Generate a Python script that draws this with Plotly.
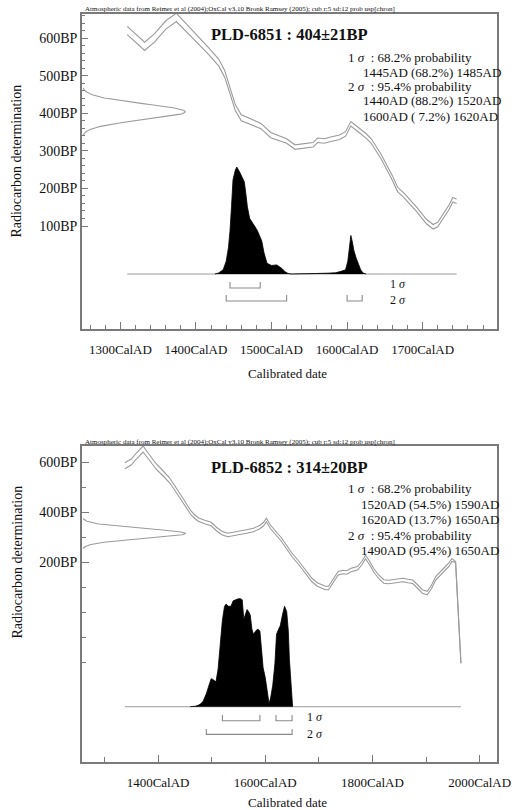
import numpy as np
import plotly.graph_objects as go

W, H = 526, 810

# ---------------- Panel 1 data : PLD-6851 ----------------
cal1_year = [1309, 1320, 1332, 1345, 1360, 1374, 1387, 1400, 1416, 1430, 1438, 1445, 1452, 1460,
             1472, 1486, 1499, 1510, 1520, 1531, 1545, 1555, 1561, 1570, 1577, 1590, 1598, 1605,
             1615, 1625, 1632, 1645, 1660, 1667, 1675, 1685, 1693, 1705, 1714, 1720, 1727, 1735,
             1740, 1745]
cal1_bp = [620, 600, 578, 600, 635, 655, 628, 602, 567, 535, 505, 460, 415, 388,
           378, 366, 342, 333, 326, 310, 313, 316, 328, 326, 330, 336, 345, 372,
           356, 340, 326, 285, 228, 197, 182, 160, 142, 112, 98, 104, 124, 150,
           170, 166]
cal1_err = [11, 11, 11, 11, 11, 11, 10, 10, 9, 9, 9, 8, 8, 8,
            7, 7, 7, 6, 6, 6, 6, 6, 6, 6, 6, 6, 6, 6,
            6, 6, 6, 6, 6, 6, 6, 6, 6, 6, 6, 6, 6, 6,
            6, 6]
dist1_year = [1425, 1430, 1436, 1440, 1443, 1445, 1447, 1449, 1452, 1454, 1458, 1462, 1464, 1466,
              1468, 1471, 1475, 1478, 1481, 1484, 1487, 1490, 1494, 1500, 1507, 1510, 1514, 1518,
              1522, 1526, 1550, 1560, 1575, 1585, 1592, 1598, 1601, 1603, 1605, 1607, 1609, 1612,
              1615, 1618, 1621, 1625]
dist1_prob = [0, 0.01, 0.04, 0.12, 0.25, 0.40, 0.63, 0.88, 0.97, 1.00, 0.95, 0.89, 0.86, 0.75,
              0.63, 0.52, 0.48, 0.45, 0.41, 0.36, 0.31, 0.20, 0.10, 0.08, 0.085, 0.07, 0.05, 0.02,
              0.005, 0, 0, 0.005, 0.008, 0.012, 0.025, 0.04, 0.12, 0.25, 0.36, 0.30, 0.22, 0.15,
              0.10, 0.04, 0.01, 0]
r14_1 = (404, 21)
sig1_ranges_1 = [(1445, 1485)]
sig2_ranges_1 = [(1440, 1520), (1600, 1620)]
title1 = "PLD-6851 : 404±21BP"
text1 = ["1 <i>σ</i>  : 68.2% probability", "1445AD (68.2%) 1485AD",
         "2 <i>σ</i>  : 95.4% probability", "1440AD (88.2%) 1520AD", "1600AD ( 7.2%) 1620AD"]
xt1_vals = [1300, 1400, 1500, 1600, 1700]
xt1_text = ["1300CalAD", "1400CalAD", "1500CalAD", "1600CalAD", "1700CalAD"]
yt1_vals = [100, 200, 300, 400, 500, 600]
yt1_text = ["100BP", "200BP", "300BP", "400BP", "500BP", "600BP"]

# ---------------- Panel 2 data : PLD-6852 ----------------
cal2_year = [1338, 1350, 1360, 1372, 1385, 1396, 1410, 1421, 1430, 1439, 1447, 1454, 1462, 1469,
             1475, 1487, 1499, 1510, 1520, 1530, 1542, 1554, 1565, 1578, 1590, 1597, 1602, 1610,
             1620, 1630, 1639, 1650, 1663, 1675, 1687, 1697, 1705, 1712, 1718, 1728, 1736, 1745,
             1752, 1760, 1772, 1780, 1787, 1795, 1802, 1812, 1821, 1830, 1839, 1848, 1857, 1866,
             1875, 1885, 1893, 1902, 1910, 1918, 1928, 1936, 1943, 1948, 1955, 1965]
cal2_bp = [585, 600, 625, 652, 615, 583, 553, 528, 500, 472, 445, 421, 395, 380,
           370, 360, 352, 330, 315, 308, 312, 316, 322, 328, 340, 352, 368, 340,
           315, 290, 262, 228, 195, 160, 128, 110, 101, 96, 96, 130, 155, 160,
           158, 168, 175, 195, 220, 195, 168, 140, 122, 120, 122, 126, 128, 124,
           121, 100, 82, 76, 100, 135, 155, 175, 190, 208, 200, -205]
cal2_err = [12, 12, 12, 12, 11, 11, 10, 10, 9, 9, 8, 8, 8, 7,
            7, 7, 7, 7, 7, 7, 7, 7, 7, 7, 7, 7, 7, 7,
            7, 7, 7, 7, 7, 7, 7, 7, 7, 7, 7, 7, 7, 7,
            7, 7, 7, 7, 7, 7, 7, 7, 7, 7, 7, 7, 7, 7,
            7, 7, 7, 7, 7, 7, 7, 7, 7, 6, 2, 1]
dist2_year = [1460, 1470, 1478, 1484, 1490, 1495, 1499, 1503, 1508, 1512, 1516, 1520, 1524, 1527,
              1531, 1536, 1540, 1545, 1550, 1554, 1557, 1560, 1563, 1566, 1569, 1572, 1575, 1578,
              1582, 1586, 1590, 1593, 1596, 1600, 1604, 1607, 1610, 1614, 1618, 1621, 1625, 1628,
              1632, 1636, 1640, 1643, 1645, 1648, 1651]
dist2_prob = [0, 0.005, 0.02, 0.05, 0.12, 0.20, 0.26, 0.25, 0.23, 0.35, 0.60, 0.80, 0.93, 0.95,
              0.93, 0.93, 0.98, 0.99, 1.00, 1.00, 0.99, 0.81, 0.85, 0.90, 0.88, 0.85, 0.72, 0.67,
              0.70, 0.72, 0.70, 0.55, 0.36, 0.27, 0.12, 0.03, 0.08, 0.20, 0.40, 0.67, 0.72, 0.75,
              0.85, 0.93, 0.88, 0.70, 0.44, 0.20, 0]
r14_2 = (314, 20)
sig1_ranges_2 = [(1520, 1590), (1620, 1650)]
sig2_ranges_2 = [(1490, 1650)]
title2 = "PLD-6852 : 314±20BP"
text2 = ["1 <i>σ</i>  : 68.2% probability", "1520AD (54.5%) 1590AD", "1620AD (13.7%) 1650AD",
         "2 <i>σ</i>  : 95.4% probability", "1490AD (95.4%) 1650AD"]
xt2_vals = [1400, 1600, 1800, 2000]
xt2_text = ["1400CalAD", "1600CalAD", "1800CalAD", "2000CalAD"]
yt2_vals = [200, 400, 600]
yt2_text = ["200BP", "400BP", "600BP"]

header = ("Atmospheric data from Reimer et al (2004);OxCal v3.10 Bronk Ramsey (2005); "
          "cub r:5 sd:12 prob usp[chron]")

FONT = "Liberation Serif, Times New Roman, serif"
GRAY = "#9a9a9a"
AX = "#7a7a7a"
INK = "#111111"


def px(x):
    return x / W


def py(y):
    return 1 - y / H


fig = go.Figure()


def add_panel(cal_year, cal_bp, cal_err, dist_year, dist_prob, r14, s1, s2,
              xa_id, ya_id, xg_id, yd_id, lvl):
    up = [b + e for b, e in zip(cal_bp, cal_err)]
    lo = [b - e for b, e in zip(cal_bp, cal_err)]
    for series in (up, lo):
        fig.add_trace(go.Scatter(x=cal_year, y=series, mode="lines",
                                 line=dict(color=GRAY, width=1.1),
                                 xaxis=xa_id, yaxis=ya_id, hoverinfo="skip"))
    # radiocarbon measurement: normal curve of the stated mean ± sd
    mu, sd = r14
    z = np.linspace(-3, 3, 121)
    fig.add_trace(go.Scatter(x=np.exp(-z ** 2 / 2), y=mu + z * sd, mode="lines",
                             line=dict(color=GRAY, width=1.1),
                             xaxis=xg_id, yaxis=ya_id, hoverinfo="skip"))
    # baseline of calibrated distribution
    fig.add_trace(go.Scatter(x=[cal_year[0], cal_year[-1]], y=[0, 0], mode="lines",
                             line=dict(color=GRAY, width=1.1),
                             xaxis=xa_id, yaxis=yd_id, hoverinfo="skip"))
    # calibrated distribution
    fig.add_trace(go.Scatter(x=dist_year, y=dist_prob, mode="lines", fill="tozeroy",
                             fillcolor="black", line=dict(color="black", width=0.8),
                             xaxis=xa_id, yaxis=yd_id, hoverinfo="skip"))
    # sigma range brackets
    for ranges, (lv, top) in zip((s1, s2), lvl):
        bx, by = [], []
        for a, b in ranges:
            bx += [a, a, b, b, None]
            by += [top, lv, lv, top, None]
        fig.add_trace(go.Scatter(x=bx, y=by, mode="lines",
                                 line=dict(color="#8a8a8a", width=1.1),
                                 xaxis=xa_id, yaxis=yd_id, hoverinfo="skip"))


add_panel(cal1_year, cal1_bp, cal1_err, dist1_year, dist1_prob, r14_1,
          sig1_ranges_1, sig2_ranges_1, "x", "y", "x3", "y3",
          [(-0.131, -0.075), (-0.252, -0.196)])
add_panel(cal2_year, cal2_bp, cal2_err, dist2_year, dist2_prob, r14_2,
          sig1_ranges_2, sig2_ranges_2, "x2", "y2", "x4", "y4",
          [(-0.130, -0.077), (-0.256, -0.206)])

xdom = [px(84), px(510)]
common = dict(showline=True, mirror=True, linecolor=AX, linewidth=1.5, ticks="inside",
              tickcolor=AX, showgrid=False, zeroline=False,
              tickfont=dict(family=FONT, size=13, color=INK))
yfont = dict(family=FONT, size=14, color=INK)

minor_x1 = [v for v in range(1260, 1800, 20) if v % 100 != 0]
minor_y1 = [v for v in range(120, 661, 20) if v % 100 != 0]
minor_x2 = [1300, 1500, 1700, 1900]
minor_y2 = [500, 300, 100, 0, -100, -200]

fig.update_layout(
    width=W, height=H, autosize=False, margin=dict(l=0, r=0, t=0, b=0),
    paper_bgcolor="white", plot_bgcolor="white", showlegend=False,
    font=dict(family=FONT, color=INK),
    xaxis=dict(domain=xdom, anchor="y", range=[1249, 1799], tickvals=xt1_vals,
               ticktext=xt1_text, ticklen=7, ticklabelstandoff=8,
               minor=dict(tickvals=minor_x1, ticks="inside", ticklen=4, tickcolor=AX), **common),
    yaxis=dict(domain=[py(329), py(14)], anchor="x", range=[-174, 664], tickvals=yt1_vals,
               ticktext=yt1_text, ticklen=6,
               minor=dict(tickvals=minor_y1, ticks="inside", ticklen=3, tickcolor=AX),
               **{**common, "tickfont": yfont}),
    xaxis3=dict(overlaying="x", anchor="y", range=[0, 4.02], visible=False),
    yaxis3=dict(overlaying="y", anchor="x", range=[-0.514, 2.430], visible=False),
    xaxis2=dict(domain=xdom, anchor="y2", range=[1258, 2033], tickvals=xt2_vals,
                ticktext=xt2_text, ticklen=7, ticklabelstandoff=8,
                minor=dict(tickvals=minor_x2, ticks="inside", ticklen=5, tickcolor=AX), **common),
    yaxis2=dict(domain=[py(762), py(446)], anchor="x2", range=[-600, 664], tickvals=yt2_vals,
                ticktext=yt2_text, ticklen=7,
                minor=dict(tickvals=minor_y2, ticks="inside", ticklen=4, tickcolor=AX),
                **{**common, "tickfont": yfont}),
    xaxis4=dict(overlaying="x2", anchor="y2", range=[0, 4.02], visible=False),
    yaxis4=dict(overlaying="y2", anchor="x2", range=[-0.512, 2.414], visible=False),
)

ann = []


def txt(x, y, s, size, xanchor="left", bold=False, **kw):
    ann.append(dict(x=px(x), y=py(y), xref="paper", yref="paper",
                    text=(f"<b>{s}</b>" if bold else s),
                    showarrow=False, xanchor=xanchor, yanchor="middle",
                    font=dict(family=FONT, size=size, color=INK), **kw))


txt(85, 9, header, 7)
txt(85, 442, header, 7)
txt(297, 35, title1, 16.5, xanchor="center", bold=True)
txt(297, 468, title2, 16.5, xanchor="center", bold=True)
for (x, y), s in zip([(355, 57), (370, 72), (355, 87), (370, 101), (370, 116)], text1):
    txt(x, y, s, 13)
for (x, y), s in zip([(355, 488), (368, 504), (368, 519), (355, 535), (368, 550)], text2):
    txt(x, y, s, 13)
txt(17, 161, "Radiocarbon determination", 14, xanchor="center", textangle=-90)
txt(17, 562, "Radiocarbon determination", 14, xanchor="center", textangle=-90)
txt(295, 373, "Calibrated date", 13, xanchor="center")
txt(295, 802, "Calibrated date", 13, xanchor="center")

for xr, yr, xv, lv in [("x", "y3", 1668, [-0.093, -0.243]), ("x2", "y4", 1693, [-0.093, -0.253])]:
    for v, lab in zip(lv, ["1 <i>σ</i>", "2 <i>σ</i>"]):
        ann.append(dict(x=xv, y=v, xref=xr, yref=yr, text=lab, showarrow=False,
                        xanchor="center", yanchor="middle",
                        font=dict(family=FONT, size=12, color=INK)))

fig.update_layout(annotations=ann)

post = ("document.documentElement.style.margin='0';"
        "document.body.style.margin='0';document.body.style.overflow='hidden';")
fig.write_html("out.html", config={"displayModeBar": False, "responsive": False},
               post_script=post)
